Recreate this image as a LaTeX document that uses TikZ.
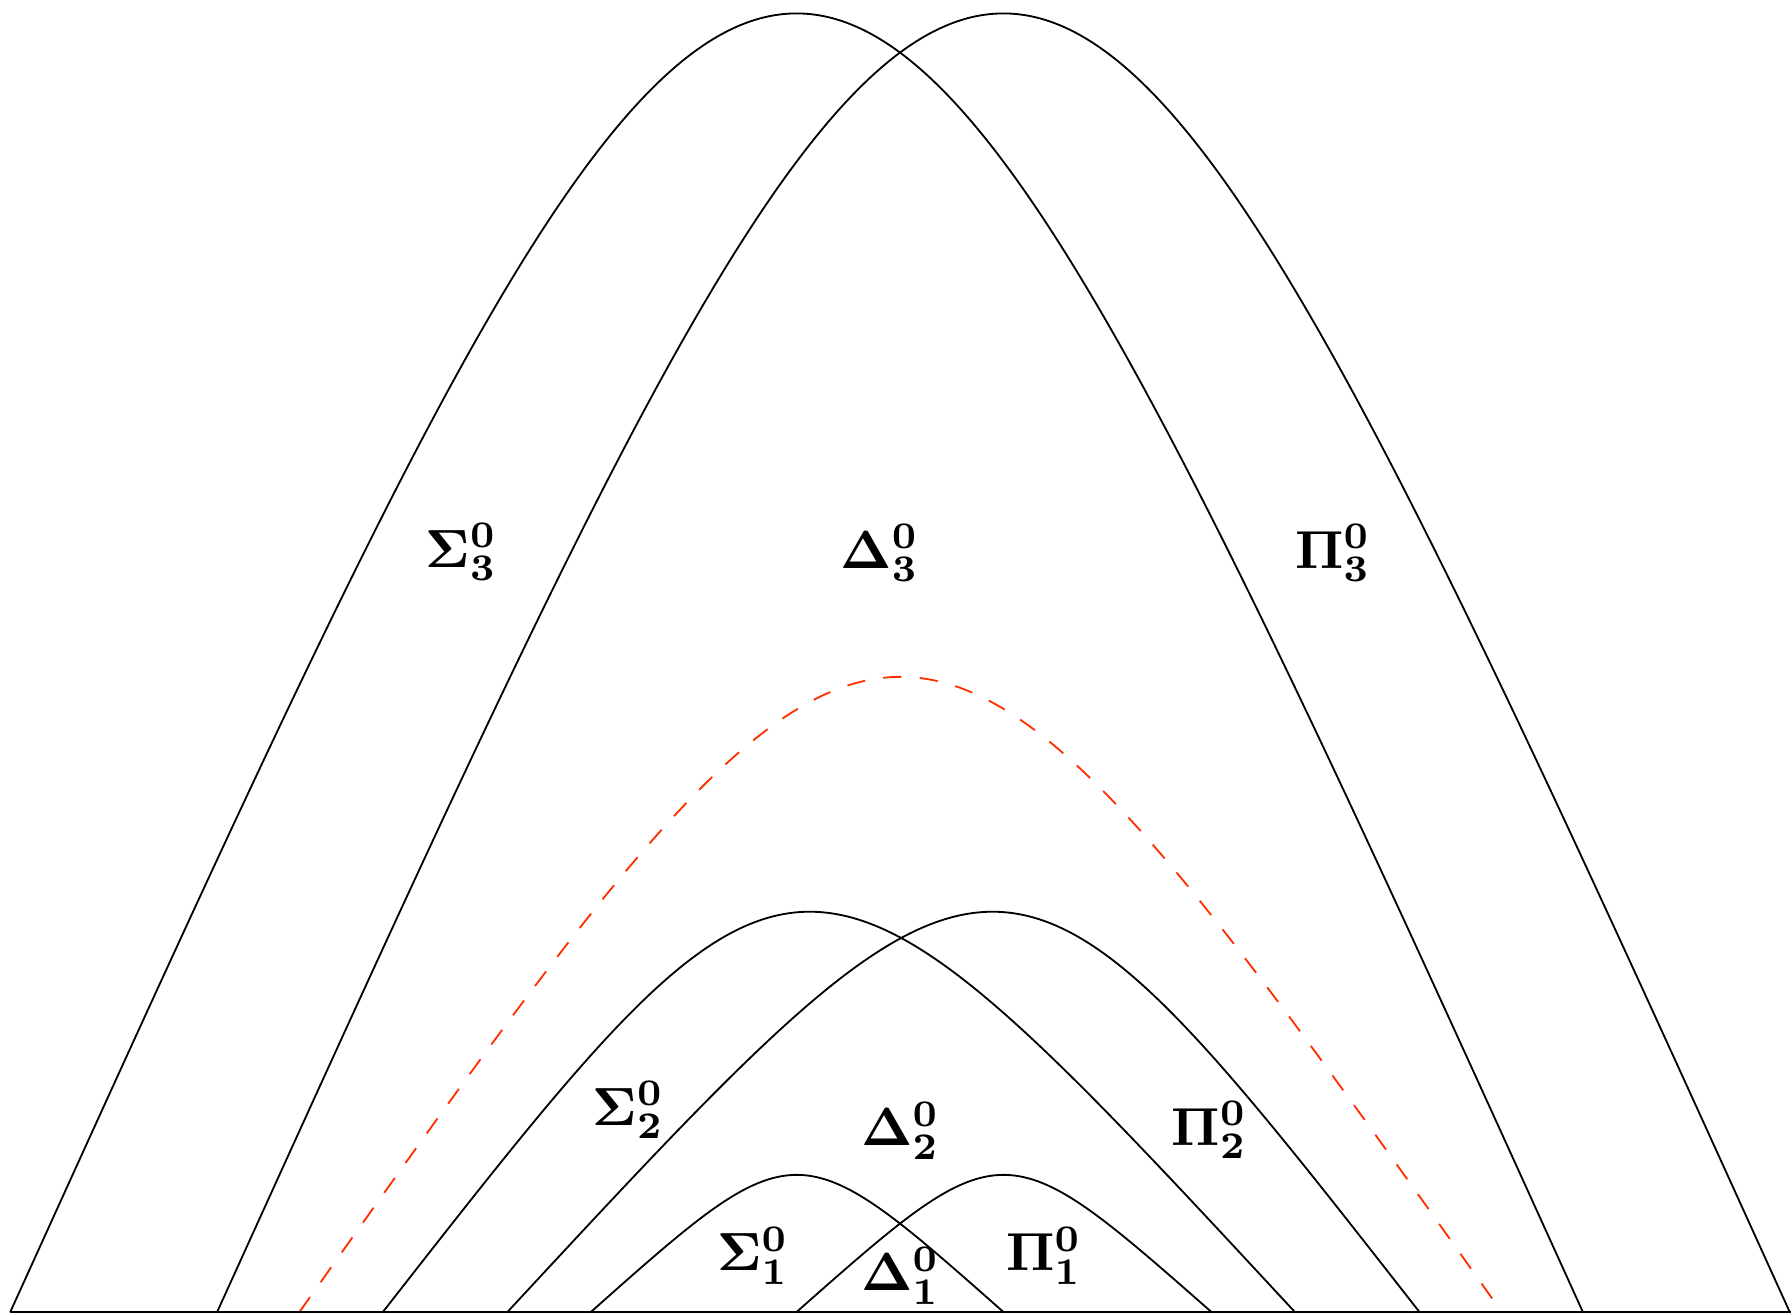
\documentclass[tikz,border=0pt]{standalone}
\usepackage{graphicx}
\definecolor{dashred}{RGB}{255,48,0}
\newcommand{\biglab}[1]{\scalebox{2.35}{$\mathbf{#1}$}}
\begin{document}
\begin{tikzpicture}[x=0.5pt,y=-0.5pt,
  curve/.style={line width=0.8pt, line join=round},
  reddash/.style={line width=0.8pt, draw=dashred, dash pattern=on 8pt off 8pt},
  lab/.style={inner sep=0pt, anchor=base west, font=\fontsize{10}{12}\selectfont}]
\useasboundingbox (0,0) rectangle (1568,1150);
% large hierarchy level 3
\draw[curve] (9,1148) .. controls (697,-367) .. (1385,1148);
\draw[curve] (190,1148) .. controls (878,-367) .. (1566,1148);
% dashed red curve
\draw[reddash] (262,1148) .. controls (788,407) .. (1314,1148);
% level 2
\draw[curve] (335,1148) .. controls (700,681) .. (1133,1148);
\draw[curve] (444,1148) .. controls (877,681) .. (1242,1148);
% level 1
\draw[curve] (517,1148) .. controls (697,988) .. (878,1148);
\draw[curve] (697,1148) .. controls (878,988) .. (1060,1148);
% base line
\coordinate (bl) at (9,1148);
\coordinate (br) at (1567,1148);
\draw[curve] (bl) -- (br);
% labels
\node[lab] (s3) at (372,496.5) {\biglab{\Sigma^0_3}};
\node[lab] (d3) at (735,497) {\biglab{\Delta^0_3}};
\node[lab] (p3) at (1133,497) {\biglab{\Pi^0_3}};
\node[lab] (s2) at (518,984.5) {\biglab{\Sigma^0_2}};
\node[lab] (d2) at (753,1002.5) {\biglab{\Delta^0_2}};
\node[lab] (p2) at (1025,1002) {\biglab{\Pi^0_2}};
\node[lab] (s1) at (627,1112) {\biglab{\Sigma^0_1}};
\node[lab] (d1) at (753,1129.5) {\biglab{\Delta^0_1}};
\node[lab] (p1) at (880,1112) {\biglab{\Pi^0_1}};
\end{tikzpicture}
\end{document}
